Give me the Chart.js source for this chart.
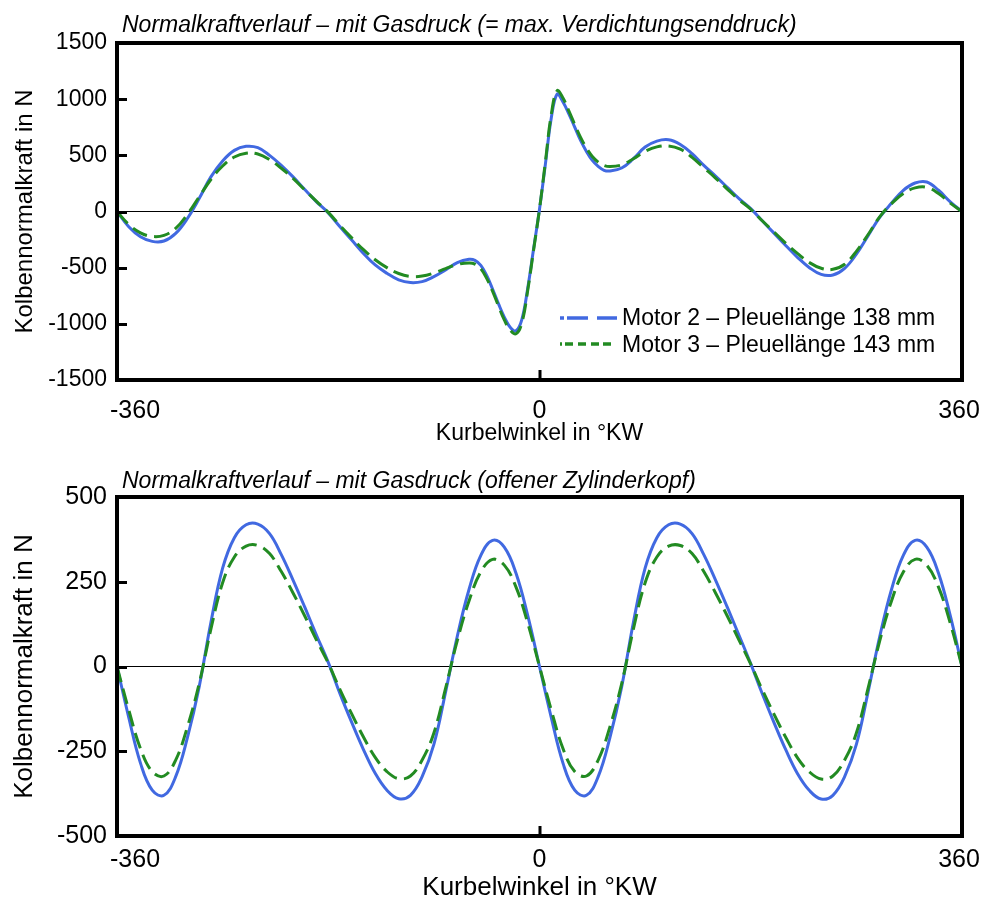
<!DOCTYPE html>
<html lang="de">
<head>
<meta charset="utf-8">
<title>Normalkraftverlauf</title>
<script src="https://cdn.jsdelivr.net/npm/chart.js@4/dist/chart.umd.min.js"></script>
<style>
  html, body { margin: 0; padding: 0; background: #fff; }
  body { width: 981px; height: 905px; position: relative; overflow: hidden; }
  canvas { position: absolute; left: 0; }
  #topChart { top: 0; }
  #bottomChart { top: 455px; }
</style>
</head>
<body>
<canvas id="topChart" width="981" height="455"></canvas>
<canvas id="bottomChart" width="981" height="450"></canvas>
<script>
// Crank angle samples (°KW) for the upper diagram – finer around TDC where the gas force peaks
const angleTop = [
  -360, -350, -340, -330, -320, -310, -300, -290, -280, -270, -260, -250, -240, -230, -220, -210,
  -200, -190, -180, -170, -160, -150, -140, -130, -120, -110, -100, -90, -80, -70,
  -60, -55, -50, -45, -40, -35, -30, -25, -20, -15, -10, -5, 0, 5, 10, 15, 20, 25, 30,
  35, 40, 45, 50, 55, 60, 70, 80, 90, 100, 110, 120, 130, 140, 150, 160, 170, 180,
  190, 200, 210, 220, 230, 240, 250, 260, 270, 280, 290, 300, 310, 320, 330, 340, 350, 360
];
// Piston normal force (N) with gas pressure, Motor 2 (conrod 138 mm)
const motor2Top = [
  0, -136, -225, -266, -263, -195, -62, 115, 308, 450, 544, 580, 568, 500, 411, 308,
  195, 86, -12, -136, -254, -373, -476, -550, -609, -633, -624, -580, -521, -455,
  -426, -435, -480, -570, -690, -820, -940, -1030, -1062, -960, -680, -330, 20, 420, 830, 1045, 975, 870, 751,
  633, 535, 455, 402, 367, 361, 387, 470, 574, 627, 639, 597, 515, 411, 315, 215, 115, 25,
  -85, -195, -305, -410, -500, -560, -565, -506, -380, -215, -50, 75, 189, 254, 263, 189, 86, 0
];
// Piston normal force (N) with gas pressure, Motor 3 (conrod 143 mm)
const motor3Top = [
  0, -115, -190, -222, -212, -150, -25, 130, 285, 405, 485, 518, 512, 462, 385, 295,
  192, 90, -8, -125, -235, -340, -430, -500, -552, -578, -575, -548, -508, -472,
  -458, -468, -510, -595, -710, -840, -965, -1055, -1089, -990, -700, -340, 20, 440, 860, 1075, 1010, 895, 775,
  660, 565, 490, 440, 410, 400, 415, 470, 535, 575, 584, 555, 482, 390, 298, 200, 105, 20,
  -85, -185, -285, -375, -455, -505, -515, -470, -355, -205, -45, 70, 160, 210, 215, 160, 75, 0
];

// Crank angle samples (°KW) for the lower diagram
const angleBottom = [
  -360, -350, -340, -330, -320, -310, -300, -290, -280, -270, -260, -250, -240, -230, -220, -210,
  -200, -190, -180, -170, -160, -150, -140, -130, -120, -110, -100, -90, -80, -70, -60, -50,
  -40, -30, -20, -10, 0, 10, 20, 30, 40, 50, 60, 70, 80, 90, 100, 110, 120, 130, 140, 150,
  160, 170, 180, 190, 200, 210, 220, 230, 240, 250, 260, 270, 280, 290, 300, 310, 320, 330,
  340, 350, 360
];
// Piston normal force (N) with open cylinder head, Motor 2
const motor2Bottom = [
  0, -150, -285, -365, -380, -325, -210, -60, 130, 290, 380, 418, 420, 392, 330, 255,
  175, 92, 12, -80, -165, -245, -315, -365, -390, -380, -325, -230, -75, 90, 228, 328,
  372, 352, 275, 150, 0, -150, -285, -365, -380, -325, -210, -60, 130, 290, 380, 418, 420, 392, 330, 255,
  175, 92, 8, -82, -167, -247, -317, -366, -391, -380, -325, -230, -75, 90, 228, 328, 372, 352,
  275, 150, 0
];
// Piston normal force (N) with open cylinder head, Motor 3
const motor3Bottom = [
  0, -128, -242, -310, -323, -276, -178, -51, 110, 247, 323, 355, 357, 333, 280, 217,
  149, 78, 10, -68, -140, -208, -268, -310, -331, -323, -276, -196, -64, 77, 194, 279,
  316, 299, 234, 128, 0, -128, -242, -310, -323, -276, -178, -51, 110, 247, 323, 355, 357, 333, 280, 217,
  149, 78, 7, -70, -142, -210, -270, -311, -332, -323, -276, -196, -64, 77, 194, 279, 316, 299,
  234, 128, 0
];

// Axis tick values and labels
const xTickValues = [-360, 0, 360];
const yTicksTop = [-1500, -1000, -500, 0, 500, 1000, 1500];
const yTicksBottom = [-500, -250, 0, 250, 500];

const titleTop = 'Normalkraftverlauf – mit Gasdruck (= max. Verdichtungsenddruck)';
const titleBottom = 'Normalkraftverlauf – mit Gasdruck (offener Zylinderkopf)';
const xAxisTitle = 'Kurbelwinkel in °KW';
const yAxisTitle = 'Kolbennormalkraft in N';
const seriesNames = ['Motor 2 – Pleuellänge 138 mm', 'Motor 3 – Pleuellänge 143 mm'];

const BLUE = '#4169E1';
const GREEN = '#228B22';
const FONT = '"Liberation Sans", Arial, Helvetica, sans-serif';

const toPoints = (xs, ys) => xs.map((x, i) => ({ x: x, y: ys[i] }));

// Frame, inward ticks, x labels, heading and (optionally) legend
function decorations(cfg) {
  return {
    id: 'decorations',
    afterDatasetsDraw(chart) {
      const { ctx, chartArea: a, scales } = chart;
      ctx.save();
      // inward tick marks on the value axis
      ctx.strokeStyle = '#000';
      ctx.lineWidth = 3;
      ctx.beginPath();
      cfg.yTicks.forEach(v => {
        if (v === cfg.yTicks[0] || v === cfg.yTicks[cfg.yTicks.length - 1]) return;
        const y = Math.round(scales.y.getPixelForValue(v)) + 0.5;
        ctx.moveTo(a.left, y);
        ctx.lineTo(a.left + 10, y);
      });
      const x0 = Math.round(scales.x.getPixelForValue(0));
      ctx.moveTo(x0, a.bottom);
      ctx.lineTo(x0, a.bottom - 10);
      ctx.stroke();
      // plot frame
      ctx.lineWidth = 4;
      ctx.strokeRect(a.left, a.top, a.right - a.left, a.bottom - a.top);

      // crank angle labels
      ctx.fillStyle = '#000';
      ctx.font = cfg.xTickFont + 'px ' + FONT;
      ctx.textBaseline = 'alphabetic';
      xTickValues.forEach((v, i) => {
        const px = scales.x.getPixelForValue(v);
        let x = px;
        if (i === 0) { ctx.textAlign = 'left'; x = px - 7; }
        else if (i === xTickValues.length - 1) { ctx.textAlign = 'center'; x = px - 3; }
        else { ctx.textAlign = 'center'; }
        ctx.fillText(String(v), x, cfg.xTickBaseline);
      });

      // heading
      ctx.font = 'italic ' + cfg.titleFont + 'px ' + FONT;
      ctx.textAlign = 'left';
      ctx.fillText(cfg.title, 122, cfg.titleBaseline);

      // legend
      if (cfg.legend) {
        const L = cfg.legend;
        ctx.lineCap = 'butt';
        ctx.lineWidth = 3.5;
        ctx.strokeStyle = BLUE;
        ctx.setLineDash([4, 3, 21, 9, 20, 100]);
        ctx.beginPath();
        ctx.moveTo(L.x0, L.y1); ctx.lineTo(L.x1, L.y1);
        ctx.stroke();
        ctx.strokeStyle = GREEN;
        ctx.setLineDash([2, 3, 8, 5, 8, 5, 8, 4, 8, 100]);
        ctx.beginPath();
        ctx.moveTo(L.x0, L.y2); ctx.lineTo(L.x1, L.y2);
        ctx.stroke();
        ctx.setLineDash([]);
        ctx.font = L.font + 'px ' + FONT;
        ctx.fillStyle = '#000';
        ctx.textAlign = 'left';
        ctx.fillText(seriesNames[0], L.tx, L.b1);
        ctx.fillText(seriesNames[1], L.tx, L.b2);
      }
      ctx.restore();
    }
  };
}

function makeChart(canvasId, angles, m2, m3, opt) {
  return new Chart(document.getElementById(canvasId), {
    type: 'line',
    data: {
      datasets: [
        {
          label: seriesNames[1], data: toPoints(angles, m3),
          borderColor: GREEN, borderWidth: 3, borderDash: [16, 7],
          pointRadius: 0, tension: 0.4, fill: false, order: 0
        },
        {
          label: seriesNames[0], data: toPoints(angles, m2),
          borderColor: BLUE, borderWidth: 3,
          pointRadius: 0, tension: 0.4, fill: false, order: 1
        }
      ]
    },
    options: {
      responsive: false,
      animation: false,
      devicePixelRatio: 1,
      events: [],
      layout: { padding: { top: opt.top, right: 19, left: 0, bottom: 0 } },
      plugins: { legend: { display: false }, tooltip: { enabled: false }, title: { display: false } },
      scales: {
        x: {
          type: 'linear', min: -360, max: 360,
          ticks: { display: false, stepSize: 360 },
          grid: { display: false },
          border: { display: false },
          title: {
            display: true, text: xAxisTitle, color: '#000',
            font: { family: FONT, size: opt.xTitleFont },
            padding: { top: 0, bottom: opt.xTitlePad }
          },
          afterFit: s => { s.height = opt.xHeight; }
        },
        y: {
          type: 'linear', min: opt.yTicks[0], max: opt.yTicks[opt.yTicks.length - 1],
          afterBuildTicks: s => { s.ticks = opt.yTicks.map(v => ({ value: v })); },
          ticks: {
            color: '#000', padding: 10,
            font: { family: FONT, size: opt.yTickFont },
            callback: v => String(v)
          },
          grid: {
            drawTicks: false, lineWidth: 1,
            color: c => (c.tick && c.tick.value === 0 ? '#000' : 'rgba(0,0,0,0)')
          },
          border: { display: false },
          title: {
            display: true, text: yAxisTitle, color: '#000',
            font: { family: FONT, size: opt.yTitleFont },
            padding: { top: opt.yTitlePad, bottom: 0 }
          },
          afterFit: s => { s.width = 117; }
        }
      }
    },
    plugins: [decorations(opt)]
  });
}

makeChart('topChart', angleTop, motor2Top, motor3Top, {
  top: 43, xHeight: 75, yTicks: yTicksTop,
  yTickFont: 23, yTitleFont: 24, yTitlePad: 11,
  xTitleFont: 23, xTitlePad: 8, xTickFont: 25, xTickBaseline: 418,
  title: titleTop, titleFont: 23, titleBaseline: 32,
  legend: { x0: 560, x1: 617, y1: 318, y2: 344, tx: 622, b1: 325, b2: 352, font: 23 }
});

makeChart('bottomChart', angleBottom, motor2Bottom, motor3Bottom, {
  top: 42, xHeight: 69, yTicks: yTicksBottom,
  yTickFont: 25, yTitleFont: 26, yTitlePad: 9,
  xTitleFont: 26, xTitlePad: 2, xTickFont: 25, xTickBaseline: 412,
  title: titleBottom, titleFont: 23, titleBaseline: 33,
  legend: null
});
</script>
</body>
</html>
